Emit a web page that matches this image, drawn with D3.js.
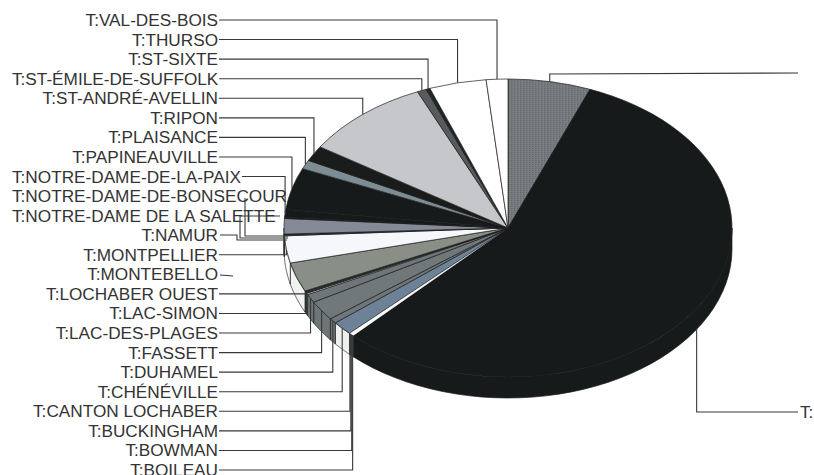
<!DOCTYPE html>
<html>
<head>
	<meta charset="utf-8">
	<title>Pie chart</title>
	<script src="https://d3js.org/d3.v7.min.js"></script>
	<style>
		body { margin: 0; background: #fff; }
		text { font-family: "Liberation Sans", Arial, sans-serif; font-size: 17.2px; fill: #333; }
	</style>
</head>
<body>
	<div id="chart"></div>

	<script>
		// Slices clockwise from 12 o'clock. The first label is cut off by the page edge.
		const categories = ["", "T:", "T:BOILEAU", "T:BOWMAN", "T:BUCKINGHAM", "T:CANTON LOCHABER",
			"T:CHÉNÉVILLE", "T:DUHAMEL", "T:FASSETT", "T:LAC-DES-PLAGES", "T:LAC-SIMON",
			"T:LOCHABER OUEST", "T:MONTEBELLO", "T:MONTPELLIER", "T:NAMUR",
			"T:NOTRE-DAME DE LA SALETTE", "T:NOTRE-DAME-DE-BONSECOUR", "T:NOTRE-DAME-DE-LA-PAIX",
			"T:PAPINEAUVILLE", "T:PLAISANCE", "T:RIPON", "T:ST-ANDRÉ-AVELLIN",
			"T:ST-ÉMILE-DE-SUFFOLK", "T:ST-SIXTE", "T:THURSO", "T:VAL-DES-BOIS"];
		const values = [5.97, 56.19, 0.09, 0.09, 0.09, 0.09,
			1.50, 0.56, 2.14, 0.92, 0.14,
			0.28, 3.17, 2.94, 0.19,
			1.67, 0.14, 0.83,
			4.53, 0.97, 1.67, 9.22,
			0.67, 0.28, 4.11, 1.56];
		const faceColors = ["url(#speckle)", "#161a1a", "#fafafa", "#fafafa", "#fafafa", "#fafafa",
			"#6d8297", "#6f777b", "#70787a", "#6f767a", "#f0f0f0",
			"#2b2d2c", "#898e86", "#f5f7fb", "#2a2c30",
			"#848b97", "#151918", "#171a1a",
			"#161a1a", "#7e8c94", "#1a1c1c", "#c5c7cb",
			"#585b5d", "#242626", "#ffffff", "#ffffff"];
		const wallColors = ["#6b6f73", "#161a1a", "#fff", "#fff", "#fff", "#fff",
			"#eef0f0", "#70777a", "#6e7577", "#6e7577", "#fff",
			"#444", "#f2f2f2", "#fff", "#fff",
			"#fff", "#fff", "#fff",
			"#fff", "#fff", "#fff", "#fff",
			"#fff", "#fff", "#fff", "#fff"];

		const width = 814, height = 475;
		const cx = 508, cy = 228, rx = 224, ry = 149, depth = 21;
		const textRight = 218, textLeft = 12, farRight = 798;

		const svg = d3.select("#chart").append("svg")
			.attr("width", width)
			.attr("height", height)
			.style("display", "block");

		// dithered grey of the top slice
		const pattern = svg.append("defs").append("pattern")
			.attr("id", "speckle")
			.attr("width", 3).attr("height", 3)
			.attr("patternUnits", "userSpaceOnUse");
		pattern.append("rect").attr("width", 3).attr("height", 3).attr("fill", "#7a7e82");
		pattern.append("rect").attr("width", 1.5).attr("height", 1.5).attr("fill", "#62666a");

		const slices = d3.pie().sort(null)(values);
		const edgeX = a => cx + rx * Math.sin(a);
		const edgeY = a => cy - ry * Math.cos(a);
		const midOf = d => (d.startAngle + d.endAngle) / 2;

		// Side wall, only for the part of a slice facing the viewer
		const wallLine = d3.line();
		function wallPoints(d) {
			const a0 = Math.max(d.startAngle, Math.PI / 2);
			const a1 = Math.min(d.endAngle, 1.5 * Math.PI);
			if (a1 <= a0) return null;
			const angles = d3.range(0, 41).map(i => a0 + (a1 - a0) * i / 40);
			return angles.map(a => [edgeX(a), edgeY(a)])
				.concat(angles.reverse().map(a => [edgeX(a), edgeY(a) + depth]));
		}

		svg.append("g").selectAll("path")
			.data(slices.filter(d => wallPoints(d)))
			.enter().append("path")
			.attr("d", d => wallLine(wallPoints(d)) + "Z")
			.attr("fill", d => wallColors[d.index])
			.attr("stroke", "#1c1c1c")
			.attr("stroke-width", 0.7);

		// Top faces: a circle arc squeezed into the ellipse
		const arc = d3.arc().innerRadius(0).outerRadius(rx);
		svg.append("g")
			.attr("transform", `translate(${cx},${cy}) scale(1,${ry / rx})`)
			.selectAll("path")
			.data(slices)
			.enter().append("path")
			.attr("d", arc)
			.attr("fill", d => faceColors[d.index])
			.attr("stroke", d => d.value < 0.1 ? "none" : "#1c1c1c")
			.attr("stroke-width", 0.7)
			.attr("vector-effect", "non-scaling-stroke");

		// Left column of labels, top to bottom, evenly spaced
		const leftSlices = slices.slice(2).reverse();
		const labelY = d3.scalePoint()
			.domain(leftSlices.map(d => categories[d.index]))
			.range([20, 470]);

		const leaders = svg.append("g")
			.attr("fill", "none")
			.attr("stroke", "#383838")
			.attr("stroke-width", 1.1);
		const labels = svg.append("g");

		// Leaders that Excel routed round the others instead of straight to the slice
		const routedLeaders = {
			"T:NOTRE-DAME-DE-BONSECOUR": [[245, 198], [245, 236], [288, 236]],
			"T:NOTRE-DAME DE LA SALETTE": [[280, 216], [240, 216], [240, 238], [288, 238]],
			"T:NAMUR": [[220, 235], [237, 235], [237, 240], [287, 240]],
			"T:MONTEBELLO": [[220, 275], [233, 276]]
		};

		leftSlices.forEach(d => {
			const name = categories[d.index];
			const y = labelY(name);
			const label = labels.append("text")
				.attr("y", y)
				.attr("dy", "0.35em")
				.text(name);
			const w = label.node().getComputedTextLength();
			const x0 = Math.max(textLeft, textRight - w);
			label.attr("x", x0);

			const a = midOf(d);
			const points = routedLeaders[name] ||
				[[x0 + w + 1, y], [edgeX(a), y], [edgeX(a), edgeY(a)]];
			leaders.append("path").attr("d", d3.line()(points));
		});

		// The two large slices lead off to the right, their labels past the page edge
		const topMid = midOf(slices[0]), bigMid = midOf(slices[1]);
		leaders.append("path").attr("d", d3.line()([[edgeX(topMid), edgeY(topMid)], [edgeX(topMid), 74], [farRight, 73]]));
		leaders.append("path").attr("d", d3.line()([[edgeX(bigMid), edgeY(bigMid) + depth], [edgeX(bigMid), 412], [farRight, 412]]));
		labels.append("text")
			.attr("x", 800)
			.attr("y", 412)
			.attr("dy", "0.35em")
			.text(categories[1]);
	</script>
</body>
</html>
